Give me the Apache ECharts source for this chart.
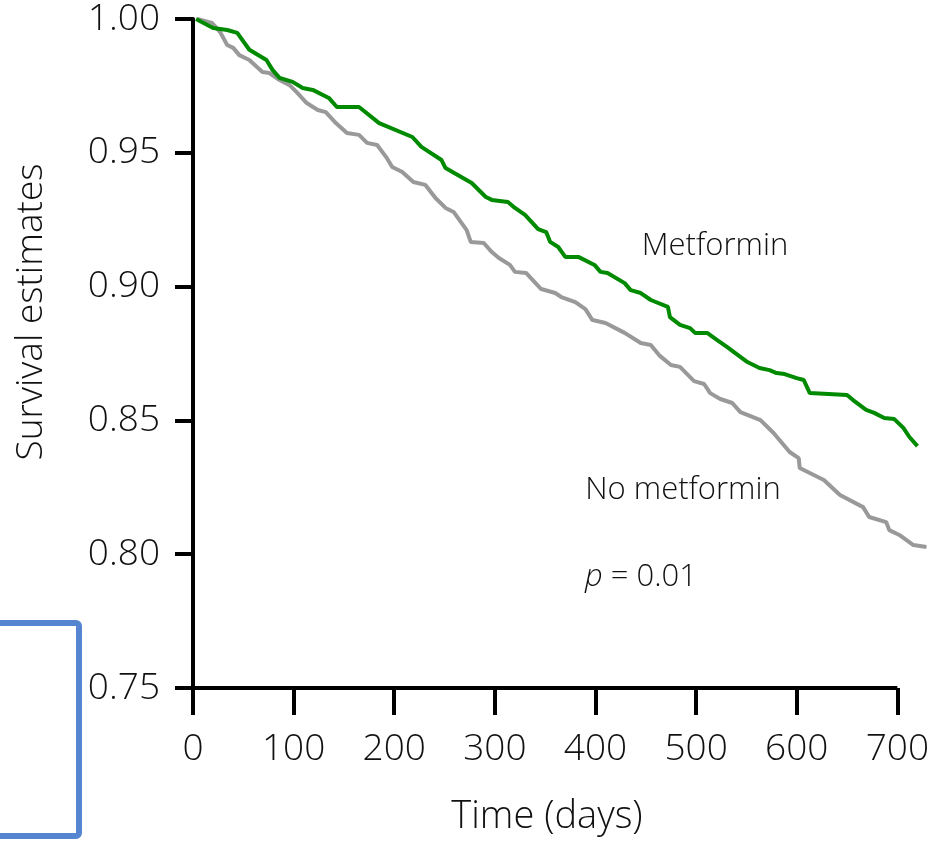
<!DOCTYPE html>
<html>
<head>
<meta charset="utf-8">
<script src="https://cdn.jsdelivr.net/npm/echarts@6/dist/echarts.min.js"></script>
<style>
html,body{margin:0;padding:0;background:#fff;}
#chart{width:932px;height:843px;}
</style>
</head>
<body>
<div id="chart"></div>
<script>
// Metformin group (days, survival estimate)
const metforminDays = [3,20,34,44,56,73,79,86,99,109,119,135,143,165,185,218,227,247,251,277,291,297,313,320,330,343,351,355,363,370,383,399,405,412,429,435,445,455,472,474,484,494,499,511,521,531,551,563,573,580,588,600,607,613,650,656,669,677,687,697,706,712,720];
const metforminSurv = [1.000,0.9966,0.9959,0.9948,0.9885,0.9847,0.9810,0.9780,0.9765,0.9742,0.9735,0.9705,0.9671,0.9671,0.9611,0.9559,0.9522,0.9473,0.9443,0.9387,0.9335,0.9324,0.9316,0.9294,0.9268,0.9215,0.9204,0.9167,0.9148,0.9111,0.9111,0.9081,0.9055,0.9051,0.9013,0.8987,0.8976,0.8950,0.8924,0.8886,0.8857,0.8845,0.8827,0.8827,0.8800,0.8774,0.8718,0.8696,0.8688,0.8677,0.8673,0.8658,0.8651,0.8602,0.8595,0.8576,0.8539,0.8528,0.8509,0.8505,0.8472,0.8438,0.8404];
// No metformin group
const noMetforminDays = [4,19,27,34,40,46,56,69,76,86,96,103,113,124,132,142,153,165,173,183,192,198,208,219,231,241,251,259,272,276,289,297,304,315,320,331,346,360,366,380,390,397,410,429,445,455,464,475,484,498,508,514,524,536,544,564,577,593,602,603,627,643,666,672,689,692,702,716,729];
const noMetforminSurv = [1.000,0.9985,0.9951,0.9903,0.9892,0.9865,0.9847,0.9802,0.9798,0.9772,0.9753,0.9727,0.9686,0.9660,0.9652,0.9611,0.9574,0.9567,0.9537,0.9529,0.9484,0.9447,0.9428,0.9391,0.9380,0.9331,0.9294,0.9279,0.9211,0.9167,0.9163,0.9129,0.9107,0.9081,0.9055,0.9051,0.8991,0.8976,0.8961,0.8942,0.8916,0.8875,0.8864,0.8827,0.8789,0.8782,0.8741,0.8707,0.8700,0.8647,0.8636,0.8602,0.8580,0.8565,0.8531,0.8501,0.8453,0.8382,0.8359,0.8322,0.8277,0.8221,0.8176,0.8139,0.8120,0.8090,0.8072,0.8034,0.8027];

const xTicks = [0,100,200,300,400,500,600,700];
const yTicks = [0.75,0.80,0.85,0.90,0.95,1.00];
const xDataEnd = 728; // curves run a little past the last labelled tick

const FONT = '"Open Sans", "Noto Sans", sans-serif';
const zip = (a,b) => a.map((v,i) => [v,b[i]]);

const chart = echarts.init(document.getElementById('chart'), null, {renderer:'canvas'});
chart.setOption({
  animation:false,
  backgroundColor:'#ffffff',
  grid:{left:193, top:19, right:0, bottom:155, containLabel:false},
  xAxis:{
    type:'value', min:xTicks[0], max:xDataEnd, interval:100,
    axisLine:{show:false},
    axisTick:{show:true, length:27, customValues:xTicks, lineStyle:{color:'#000', width:4}},
    splitLine:{show:false},
    axisLabel:{color:'#111', fontSize:37, fontFamily:FONT, fontWeight:300, margin:43, customValues:xTicks}
  },
  yAxis:{
    type:'value', min:yTicks[0], max:yTicks[yTicks.length-1], interval:0.05,
    axisLine:{show:true, lineStyle:{color:'#000', width:4}},
    axisTick:{show:true, length:18, lineStyle:{color:'#000', width:4}},
    splitLine:{show:false},
    axisLabel:{color:'#111', fontSize:37, fontFamily:FONT, fontWeight:300, margin:33,
      formatter:v => v.toFixed(2)}
  },
  series:[
    {type:'line', name:'No metformin', data:zip(noMetforminDays,noMetforminSurv), showSymbol:false, clip:false,
     lineStyle:{color:'#999999', width:4}, z:2,
     markLine:{silent:true, symbol:'none', label:{show:false}, animation:false,
       lineStyle:{color:'#000', width:4, type:'solid'},
       data:[[{coord:[xTicks[0], yTicks[0]]},{coord:[xTicks[xTicks.length-1], yTicks[0]]}]]}},
    {type:'line', name:'Metformin', data:zip(metforminDays,metforminSurv), showSymbol:false, clip:false,
     lineStyle:{color:'#008a00', width:4}, z:3}
  ],
  graphic:[
    {type:'text', x:715, y:246, style:{text:'Metformin', font:'300 31px '+FONT, fill:'#111', align:'center', verticalAlign:'middle'}},
    {type:'text', x:683, y:490, style:{text:'No metformin', font:'300 31px '+FONT, fill:'#111', align:'center', verticalAlign:'middle'}},
    {type:'text', x:585, y:577, style:{text:'{i|p} = 0.01', font:'300 31px '+FONT, fill:'#111', align:'left', verticalAlign:'middle',
      rich:{i:{fontStyle:'italic', fontSize:31, fontFamily:FONT, fontWeight:300, fill:'#111'}}}},
    {type:'text', x:547, y:817, style:{text:'Time (days)', font:'300 38px '+FONT, fill:'#111', align:'center', verticalAlign:'middle'}},
    {type:'text', x:31, y:312, rotation:Math.PI/2, style:{text:'Survival estimates', font:'300 37px '+FONT, fill:'#111', align:'center', verticalAlign:'middle'}},
    {type:'rect', shape:{x:-10, y:623, width:89, height:213, r:3}, style:{fill:'none', stroke:'#5585d0', lineWidth:6}}
  ]
});
</script>
</body>
</html>
